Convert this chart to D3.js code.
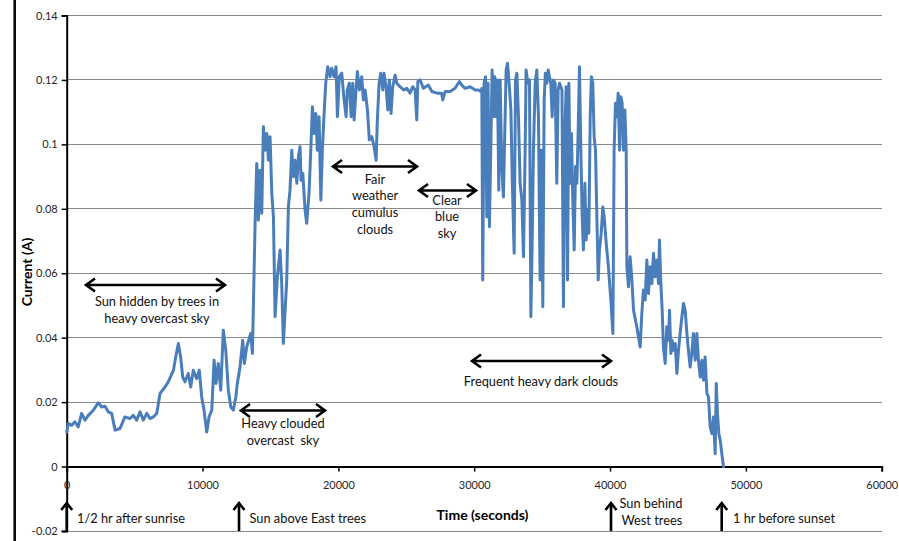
<!DOCTYPE html>
<html><head><meta charset="utf-8">
<script src="https://cdn.jsdelivr.net/npm/d3@7"></script>
<style>
body{margin:0;background:#fff}
svg{display:block;font-family:Lato,'Open Sans',sans-serif}
</style>
</head><body>
<svg id="c" width="899" height="541"></svg>
<script>
// ---- data (time in seconds, current in A) ----
const times = [0,120,370,610,850,1100,1350,1590,1960,2330,2580,2820,3060,3310,3560,3920,4290,4660,4900,5150,5400,5640,5890,6130,6380,6630,6870,7240,7480,
7860,8050,8220,8390,8540,8710,8950,9130,9320,9570,9760,9940,10110,10310,10480,10680,10850,10990,11160,11340,11530,11710,11900,12080,12270,12450,12560,12760,12960,13080,13250,13550,13670,
13870,13990,14110,14230,14360,14480,14600,14730,14850,14970,15100,15220,15340,15510,15710,15830,15950,16200,16320,16440,16570,16690,16810,16940,17060,17180,17250,17380,17550,17670,17840,17970,18090,18210,18340,18450,18580,18710,18820,18950,19070,19220,19390,19510,19680,19830,19930,20070,20250,20420,20570,20660,20810,20940,21060,21160,21300,21400,21550,21720,21840,21970,22140,22280,22460,22630,22780,22870,23000,23120,23270,23360,23510,23640,23750,23880,24000,24180,24300,24540,24800,25040,25280,25480,25650,25770,25850,26020,26260,26630,26880,27250,27600,27690,27860,28230,28590,28910,29090,29330,29700,30070,30310,30490,
30560,30630,30730,30830,30930,31020,31120,31220,31320,31420,31520,31610,31710,31810,31910,32030,32150,32250,32350,32450,32570,32700,32810,32940,33040,33140,33260,33380,33510,33630,33750,33820,33950,34070,34170,34260,34360,34490,34610,34730,34850,34950,35050,35150,35240,35350,35450,35540,35640,35740,35840,35960,36080,36180,36280,36460,36570,36670,36770,36870,36970,37060,37160,37260,37360,37460,37560,37650,37750,37850,37950,38040,38150,38240,38340,38440,38540,38630,38730,38830,38930,39030,39130,39220,39350,39470,39570,39720,39880,40060,40210,40300,40400,40500,40600,40700,40800,40890,40990,41090,41190,41240,41360,41480,41610,41730,41970,42220,
42340,42460,42590,42710,42830,42950,43080,43200,43320,43450,43570,43640,43740,43840,43930,44060,44180,44300,44380,44480,44570,44670,44800,44920,45040,45160,45290,45410,45530,45660,45770,45900,46020,46140,46270,46390,46510,46640,46760,46880,47000,47130,47250,47370,47500,47620,47740,47820,47910,48010,48110,48230,48350];
const currents = [0.0107,0.0134,0.0128,0.0139,0.0123,0.0165,0.0144,0.0159,0.0175,0.0198,0.0185,0.0187,0.0170,0.0165,0.0113,0.0118,0.0154,0.0149,0.0159,0.0144,0.0170,0.0144,0.0165,0.0149,0.0154,0.0165,0.0227,0.0247,0.0263,
0.0299,0.0346,0.0382,0.0340,0.0278,0.0263,0.0289,0.0247,0.0299,0.0273,0.0299,0.0216,0.0175,0.0107,0.0154,0.0175,0.0330,0.0258,0.0320,0.0237,0.0423,0.0361,0.0237,0.0185,0.0175,0.0216,0.0258,0.0309,0.0392,0.0320,0.0371,0.0413,0.0351,
0.0755,0.0941,0.0765,0.0920,0.0786,0.1055,0.0982,0.1034,0.0951,0.1024,0.0848,0.0775,0.0465,0.0589,0.0672,0.0568,0.0382,0.0579,0.0806,0.0858,0.0982,0.0900,0.0951,0.0879,0.0962,0.0993,0.0889,0.0910,0.0796,0.0755,0.0848,0.0982,0.1117,0.1034,0.1096,0.0982,0.1086,0.0827,0.0982,0.1096,0.1190,0.1241,0.1210,0.1236,0.1210,0.1241,0.1086,0.1210,0.1221,0.1138,0.1086,0.1169,0.1190,0.1086,0.1190,0.1076,0.1169,0.1226,0.1169,0.1210,0.1138,0.1169,0.1107,0.1014,0.1024,0.0993,0.0951,0.1076,0.1190,0.1221,0.1169,0.1221,0.1179,0.1107,0.1200,0.1096,0.1179,0.1215,0.1190,0.1179,0.1169,0.1174,0.1159,0.1179,0.1169,0.1076,0.1195,0.1200,0.1174,0.1184,0.1164,0.1159,0.1159,0.1138,0.1164,0.1164,0.1174,0.1195,0.1184,0.1174,0.1179,0.1169,0.1169,0.1164,
0.1174,0.0579,0.1190,0.1210,0.0775,0.1190,0.0744,0.0982,0.1231,0.1086,0.1210,0.1086,0.1200,0.0858,0.1200,0.0931,0.0837,0.1034,0.1231,0.1252,0.1190,0.1107,0.0879,0.0662,0.1200,0.1221,0.1086,0.0879,0.0827,0.0651,0.0982,0.1231,0.1190,0.1200,0.0465,0.0672,0.0982,0.1190,0.1231,0.1086,0.0579,0.0982,0.0496,0.1138,0.1221,0.1190,0.1231,0.1210,0.1190,0.1086,0.1200,0.1190,0.0879,0.1169,0.1190,0.1169,0.0496,0.1034,0.1179,0.0579,0.1190,0.0879,0.1034,0.0827,0.0672,0.0931,0.0879,0.1034,0.1241,0.0982,0.0775,0.0672,0.0879,0.0703,0.0796,0.0724,0.1086,0.1210,0.1190,0.1024,0.0982,0.0775,0.0579,0.0672,0.0724,0.0806,0.0775,0.0693,0.0620,0.0517,0.0413,0.0982,0.1128,0.1086,0.1159,0.0982,0.1148,0.1128,0.0982,0.1107,0.0982,0.0620,0.0558,0.0651,0.0579,0.0485,0.0434,0.0371,
0.0475,0.0548,0.0517,0.0641,0.0537,0.0620,0.0568,0.0662,0.0589,0.0641,0.0568,0.0703,0.0568,0.0485,0.0371,0.0320,0.0434,0.0392,0.0485,0.0351,0.0392,0.0361,0.0382,0.0289,0.0361,0.0413,0.0465,0.0506,0.0485,0.0413,0.0361,0.0309,0.0351,0.0413,0.0330,0.0413,0.0330,0.0278,0.0330,0.0268,0.0340,0.0227,0.0216,0.0123,0.0102,0.0154,0.0040,0.0258,0.0165,0.0102,0.0082,0.0040,0.0];

const xTicks = [0,10000,20000,30000,40000,50000,60000];
const xTickLabels = ["0","10000","20000","30000","40000","50000","60000"];
const yTicks = [-0.02,0,0.02,0.04,0.06,0.08,0.1,0.12,0.14];
const yTickLabels = ["-0.02","0","0.02","0.04","0.06","0.08","0.1","0.12","0.14"];

// ---- drawing ----
const svg = d3.select("#c");
const L = 66.7, R = 881.7, T = 15.5, B = 531;
const x = d3.scaleLinear().domain([0,60000]).range([L,R]);
const y = d3.scaleLinear().domain([-0.02,0.14]).range([B,T]);

// left border line
svg.append("line").attr("x1",14.7).attr("x2",14.7).attr("y1",0).attr("y2",541)
  .attr("stroke","#000").attr("stroke-width",2.5);

// gridlines
svg.append("g").selectAll("line").data(yTicks.filter(v=>v!==0)).join("line")
  .attr("x1",L).attr("x2",R).attr("y1",d=>y(d)).attr("y2",d=>y(d))
  .attr("stroke","#8a8a8a").attr("stroke-width",1).attr("shape-rendering","crispEdges");

// y axis
const yAxis = d3.axisLeft(y).tickValues(yTicks).tickSize(5)
  .tickFormat((d,i)=>yTickLabels[i]);
const gy = svg.append("g").attr("transform",`translate(${L},0)`).call(yAxis);
gy.select(".domain").attr("stroke","#000").attr("stroke-width",2);
gy.selectAll(".tick line").attr("stroke","#000").attr("stroke-width",1.5);
gy.selectAll(".tick text").attr("font-size",11).attr("fill","#1f1f1f")
  .attr("font-family","Lato,'Open Sans',sans-serif").attr("x",-9);

// x axis at y = 0
const xAxis = d3.axisBottom(x).tickValues(xTicks).tickSize(5)
  .tickFormat((d,i)=>xTickLabels[i]);
const gx = svg.append("g").attr("transform",`translate(0,${y(0)})`).call(xAxis);
gx.select(".domain").attr("stroke","#000").attr("stroke-width",2);
gx.selectAll(".tick line").attr("stroke","#000").attr("stroke-width",1.5);
gx.selectAll(".tick text").attr("font-size",11).attr("fill","#1f1f1f")
  .attr("font-family","Lato,'Open Sans',sans-serif").attr("y",15);

// data line
const pts = times.map((t,i)=>[t,currents[i]]);
svg.append("path").datum(pts)
  .attr("d", d3.line().x(d=>x(d[0])).y(d=>y(d[1])))
  .attr("fill","none").attr("stroke","#4a7ebb").attr("stroke-width",3)
  .attr("stroke-linejoin","round").attr("stroke-linecap","round");

// axis titles
svg.append("text").attr("x",482.5).attr("y",520).attr("text-anchor","middle")
  .attr("font-weight","bold").attr("font-size",14).text("Time (seconds)");
svg.append("text").attr("transform","translate(32,272) rotate(-90)").attr("text-anchor","middle")
  .attr("font-weight","bold").attr("font-size",14).text("Current (A)");

// annotations
function dblArrow(x1,x2,yy){
  const h=6.5, w=9;
  svg.append("path").attr("d",
    `M${x1},${yy}H${x2}M${x1+w},${yy-h}L${x1},${yy}L${x1+w},${yy+h}M${x2-w},${yy-h}L${x2},${yy}L${x2-w},${yy+h}`)
    .attr("fill","none").attr("stroke","#000").attr("stroke-width",2.6)
    .attr("stroke-linejoin","miter");
}
function upArrow(xx,y1,y2){
  const h=7, w=5.5;
  svg.append("path").attr("d",`M${xx},${y2}V${y1}M${xx-w},${y1+h}L${xx},${y1}L${xx+w},${y1+h}`)
    .attr("fill","none").attr("stroke","#000").attr("stroke-width",2.6);
}
function label(lines,cx,y0,dy,anchor){
  const tx = svg.append("text").attr("font-size",12.8).attr("fill","#111")
    .attr("text-anchor",anchor||"middle").style("white-space","pre");
  lines.forEach((s,i)=>tx.append("tspan").attr("x",cx).attr("y",y0+i*dy).text(s));
}

dblArrow(86,225,285);
label(["Sun hidden by trees in","heavy overcast sky"],157,306,16.7);

dblArrow(241,325,410.5);
label(["Heavy clouded","overcast  sky"],283,427.5,17);

dblArrow(333,417,166.5);
label(["Fair","weather","cumulus","clouds"],375,183.5,16.8);

dblArrow(419,476,190.5);
label(["Clear","blue","sky"],447,204.5,16.5);

dblArrow(472,611,361);
label(["Frequent heavy dark clouds"],541,385.5,16);

upArrow(66.7,503,531);
label(["1/2 hr after sunrise"],77,523,16,"start");
upArrow(239,503,531);
label(["Sun above East trees"],249.5,523,16,"start");
upArrow(611,503,531);
label(["Sun behind"],619.5,507.5,16,"start");
label(["West trees"],621.5,524.5,16,"start");
upArrow(721.7,503,531);
label(["1 hr before sunset"],733,523,16,"start");
</script>
</body></html>
